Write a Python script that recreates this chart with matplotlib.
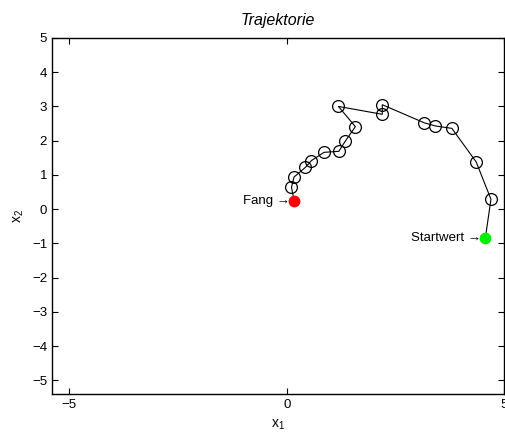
import matplotlib
matplotlib.use("Agg")
import matplotlib.pyplot as plt

plt.rcParams["font.family"] = ["Liberation Sans", "DejaVu Sans"]
plt.rcParams["mathtext.fontset"] = "custom"
plt.rcParams["mathtext.rm"] = "Liberation Sans"

# trajectory from start value to capture point
x1 = [4.57, 4.70, 4.36, 3.80, 3.42, 3.17, 2.20, 2.20, 1.19, 1.58, 1.35,
      1.20, 0.86, 0.57, 0.43, 0.17, 0.11, 0.17]
x2 = [-0.85, 0.29, 1.38, 2.36, 2.43, 2.52, 3.05, 2.77, 3.00, 2.41, 1.99,
      1.69, 1.66, 1.42, 1.22, 0.94, 0.64, 0.25]
xticks = [-5, 0, 5]
yticks = [-5, -4, -3, -2, -1, 0, 1, 2, 3, 4, 5]

fig = plt.figure(figsize=(5.05, 4.36), dpi=100)
ax = fig.add_axes([0.103, 0.096, 0.895, 0.817])

ax.plot(x1, x2, "-", color="black", lw=0.8)
ax.plot(x1[1:-1], x2[1:-1], "o", mfc="none", mec="black", ms=8.5, mew=0.9)
ax.plot(x1[0], x2[0], "o", color="#00ee00", ms=7.5)
ax.plot(x1[-1], x2[-1], "o", color="red", ms=7.5)

ax.annotate("Startwert \u2192", (x1[0], x2[0]), xytext=(-3, 0),
            textcoords="offset points", ha="right", va="center", fontsize=9.5)
ax.annotate("Fang \u2192", (x1[-1], x2[-1]), xytext=(-3, 0),
            textcoords="offset points", ha="right", va="center", fontsize=9.5)

ax.set_xlim(-5.4, 5)
ax.set_ylim(-5.4, 5)
ax.set_xticks(xticks)
ax.set_yticks(yticks)
ax.set_xticklabels([str(t).replace("-", "\u2212") for t in xticks])
ax.set_yticklabels([str(t).replace("-", "\u2212") for t in yticks])
ax.tick_params(direction="in", top=True, right=True, labelsize=9.5,
               length=4, width=0.8)
for s in ax.spines.values():
    s.set_linewidth(1.0)

ax.set_xlabel(r"x$_1$", fontsize=10, labelpad=5)
ax.set_ylabel(r"x$_2$", fontsize=10)
ax.set_title("Trajektorie", fontsize=11.5, style="italic", pad=9)

fig.savefig("out.png", dpi=100)
